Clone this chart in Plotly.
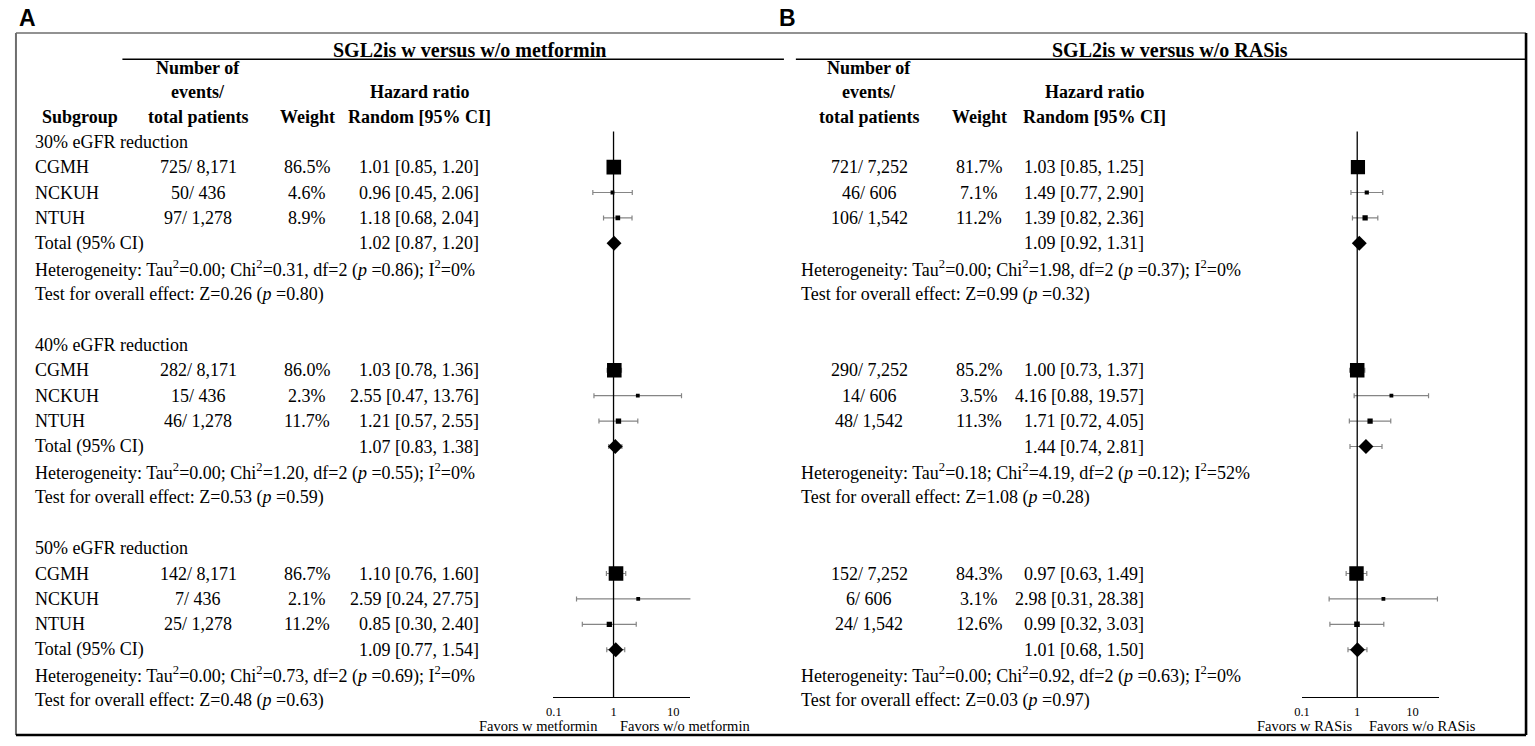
import plotly.graph_objects as go
import numpy as np

W, H = 1535, 746
SERIF = "Liberation Serif"
SANS = "Liberation Sans"

# ---------------- data ----------------
sections = ["30% eGFR reduction", "40% eGFR reduction", "50% eGFR reduction"]
centers = ["CGMH", "NCKUH", "NTUH"]
tick_vals = [0.1, 1, 10]
tick_text = ["0.1", "1", "10"]

# Panel A: SGL2is with versus without metformin
met_events = [725, 50, 97, 282, 15, 46, 142, 7, 25]
met_totals = [8171, 436, 1278, 8171, 436, 1278, 8171, 436, 1278]
met_weight = [86.5, 4.6, 8.9, 86.0, 2.3, 11.7, 86.7, 2.1, 11.2]
met_hr = [1.01, 0.96, 1.18, 1.03, 2.55, 1.21, 1.10, 2.59, 0.85]
met_lo = [0.85, 0.45, 0.68, 0.78, 0.47, 0.57, 0.76, 0.24, 0.30]
met_hi = [1.20, 2.06, 2.04, 1.36, 13.76, 2.55, 1.60, 27.75, 2.40]
met_tot_hr = [1.02, 1.07, 1.09]
met_tot_lo = [0.87, 0.83, 0.77]
met_tot_hi = [1.20, 1.38, 1.54]
met_tau2 = ["0.00", "0.00", "0.00"]
met_chi2 = ["0.31", "1.20", "0.73"]
met_df = [2, 2, 2]
met_het_p = ["0.86", "0.55", "0.69"]
met_i2 = [0, 0, 0]
met_z = ["0.26", "0.53", "0.48"]
met_z_p = ["0.80", "0.59", "0.63"]

# Panel B: SGL2is with versus without RASis
ras_events = [721, 46, 106, 290, 14, 48, 152, 6, 24]
ras_totals = [7252, 606, 1542, 7252, 606, 1542, 7252, 606, 1542]
ras_weight = [81.7, 7.1, 11.2, 85.2, 3.5, 11.3, 84.3, 3.1, 12.6]
ras_hr = [1.03, 1.49, 1.39, 1.00, 4.16, 1.71, 0.97, 2.98, 0.99]
ras_lo = [0.85, 0.77, 0.82, 0.73, 0.88, 0.72, 0.63, 0.31, 0.32]
ras_hi = [1.25, 2.90, 2.36, 1.37, 19.57, 4.05, 1.49, 28.38, 3.03]
ras_tot_hr = [1.09, 1.44, 1.01]
ras_tot_lo = [0.92, 0.74, 0.68]
ras_tot_hi = [1.31, 2.81, 1.50]
ras_tau2 = ["0.00", "0.18", "0.00"]
ras_chi2 = ["1.98", "4.19", "0.92"]
ras_df = [2, 2, 2]
ras_het_p = ["0.37", "0.12", "0.63"]
ras_i2 = [0, 52, 0]
ras_z = ["0.99", "1.08", "0.03"]
ras_z_p = ["0.32", "0.28", "0.97"]

# ---------------- layout helpers ----------------
Y0, DY = 141.7, 25.4          # pixel y of row 0, row pitch
SEC = 8                       # rows per section


def ry(px):
    return (px - Y0) / DY


def px_x(px):
    return px / W


def px_y(px):
    return 1 - px / H


AXIS_PX = 697.0
study_rows = [SEC * k + i for k in range(3) for i in (1, 2, 3)]
total_rows = [SEC * k + 4 for k in range(3)]

fig = go.Figure()
ann = []


def txt(xp, row, s, anchor="left", size=18, bold=False, family=SERIF):
    ann.append(dict(x=px_x(xp), y=row, xref="paper", yref="y", text=s,
                    showarrow=False, xanchor=anchor, yanchor="middle",
                    font=dict(family=family, size=size, color="black",
                              weight="bold" if bold else "normal")))


def sq_size(w):
    return max(3.8, 1.57 * np.sqrt(w))


def panel(cfg):
    xa = cfg["xaxis"]
    ci_style = dict(color="#858585", thickness=1.2, width=2.5)
    # CI whiskers (drawn first, below markers)
    fig.add_trace(go.Scatter(
        x=cfg["hr"] + cfg["tot_hr"], y=study_rows + total_rows, xaxis=xa, yaxis="y",
        mode="markers", marker=dict(size=2, opacity=0),
        error_x=dict(type="data", symmetric=False,
                     array=[h - m for h, m in zip(cfg["hi"] + cfg["tot_hi"], cfg["hr"] + cfg["tot_hr"])],
                     arrayminus=[m - l for m, l in zip(cfg["hr"] + cfg["tot_hr"], cfg["lo"] + cfg["tot_lo"])],
                     **ci_style),
        showlegend=False, hoverinfo="skip"))
    # study squares sized by weight
    fig.add_trace(go.Scatter(
        x=cfg["hr"], y=study_rows, xaxis=xa, yaxis="y", mode="markers",
        marker=dict(symbol="square", color="black", opacity=1,
                    size=[sq_size(w) for w in cfg["weight"]], line=dict(width=0)),
        showlegend=False, hoverinfo="skip"))
    # pooled diamonds
    fig.add_trace(go.Scatter(
        x=cfg["tot_hr"], y=total_rows, xaxis=xa, yaxis="y", mode="markers",
        marker=dict(symbol="diamond", color="black", opacity=1, size=11.5, line=dict(width=0)),
        showlegend=False, hoverinfo="skip"))

    c = cfg["cols"]
    for k in range(3):
        base = SEC * k
        if cfg["labels"]:
            txt(c["label"], base, sections[k])
            txt(c["label"], base + 4, "Total (95% CI)")
        for i in range(3):
            j = 3 * k + i
            r = base + 1 + i
            if cfg["labels"]:
                txt(c["label"], r, centers[i])
            txt(c["events"], r, f"{cfg['events'][j]}/ {cfg['totals'][j]:,}", "center")
            txt(c["weight"], r, f"{cfg['weight'][j]:.1f}%", "center")
            txt(c["hr"], r, f"{cfg['hr'][j]:.2f} [{cfg['lo'][j]:.2f}, {cfg['hi'][j]:.2f}]", "right")
        txt(c["hr"], base + 4,
            f"{cfg['tot_hr'][k]:.2f} [{cfg['tot_lo'][k]:.2f}, {cfg['tot_hi'][k]:.2f}]", "right")
        txt(c["het"], base + 5,
            f"Heterogeneity: Tau<sup>2</sup>={cfg['tau2'][k]}; Chi<sup>2</sup>={cfg['chi2'][k]}, "
            f"df={cfg['df'][k]} (<i>p</i> ={cfg['het_p'][k]}); I<sup>2</sup>={cfg['i2'][k]}%")
        txt(c["het"], base + 6,
            f"Test for overall effect: Z={cfg['z'][k]} (<i>p</i> ={cfg['z_p'][k]})")

    # header
    if cfg["labels"]:
        txt(31.7, ry(116.7), "Subgroup", "left", bold=True)
    txt(c["events"], ry(68.3), "Number of", "center", bold=True)
    txt(c["events"], ry(92.0), "events/", "center", bold=True)
    txt(c["events"], ry(116.7), "total patients", "center", bold=True)
    txt(c["weight"], ry(116.7), "Weight", "center", bold=True)
    txt(c["hrhead"], ry(92.0), "Hazard ratio", "center", bold=True)
    txt(c["hrhead"], ry(116.7), "Random [95% CI]", "center", bold=True)
    txt(cfg["title_x"], ry(50), cfg["title"], cfg["title_anchor"], size=20, bold=True)
    # favors labels
    txt(cfg["fav_l"], ry(726), cfg["fav_left"], "right", size=14.5)
    txt(cfg["fav_r"], ry(726), cfg["fav_right"], "left", size=14.5)


panel(dict(xaxis="x", hr=met_hr, lo=met_lo, hi=met_hi, weight=met_weight,
           events=met_events, totals=met_totals,
           tot_hr=met_tot_hr, tot_lo=met_tot_lo, tot_hi=met_tot_hi,
           tau2=met_tau2, chi2=met_chi2, df=met_df, het_p=met_het_p, i2=met_i2,
           z=met_z, z_p=met_z_p, labels=True,
           cols=dict(label=25, events=191, weight=301, hr=475.5, hrhead=414, het=25),
           title="SGL2is w versus w/o metformin", title_x=464, title_anchor="center",
           fav_left="Favors w metformin", fav_right="Favors w/o metformin",
           fav_l=595, fav_r=613))

panel(dict(xaxis="x2", hr=ras_hr, lo=ras_lo, hi=ras_hi, weight=ras_weight,
           events=ras_events, totals=ras_totals,
           tot_hr=ras_tot_hr, tot_lo=ras_tot_lo, tot_hi=ras_tot_hi,
           tau2=ras_tau2, chi2=ras_chi2, df=ras_df, het_p=ras_het_p, i2=ras_i2,
           z=ras_z, z_p=ras_z_p, labels=False,
           cols=dict(label=795, events=866, weight=976.5, hr=1143.5, hrhead=1092, het=795),
           title="SGL2is w versus w/o RASis", title_x=1047, title_anchor="left",
           fav_left="Favors w RASis", fav_right="Favors w/o RASis",
           fav_l=1353, fav_r=1366.5))

# panel letters
for letter, xp in (("A", 20), ("B", 784)):
    ann.append(dict(x=px_x(xp), y=px_y(18), xref="paper", yref="paper",
                    text=letter, showarrow=False,
                    xanchor="center", yanchor="middle",
                    font=dict(family=SANS, size=23, color="black", weight="bold")))

shapes = []


def pline(x0, y0, x1, y1, color="black", width=1.5):
    shapes.append(dict(type="line", xref="paper", yref="paper",
                       x0=px_x(x0), y0=px_y(y0), x1=px_x(x1), y1=px_y(y1),
                       line=dict(color=color, width=width)))


# outer frame
pline(8, 33, 1526, 33, "#6e6e6e", 1.6)
pline(8, 33, 8, 735, "#6e6e6e", 2)
pline(8, 735, 1526, 735, "black", 2.6)
pline(1526, 33, 1526, 735, "black", 2.6)
# title underlines
pline(115, 59.3, 780, 59.3, "black", 1.5)
pline(792, 59.3, 1526, 59.3, "black", 1.5)

# line of no effect
for xa in ("x", "x2"):
    shapes.append(dict(type="line", xref=xa, yref="y", x0=1, x1=1,
                       y0=-0.4, y1=ry(AXIS_PX), line=dict(color="black", width=1.3)))

axis_common = dict(type="log", anchor="free", position=px_y(AXIS_PX),
                   showline=True, linecolor="black", linewidth=1.3,
                   ticks="", tickvals=tick_vals, ticktext=tick_text,
                   tickfont=dict(family=SERIF, size=12.5, color="black"),
                   showgrid=False, zeroline=False, fixedrange=True,
                   ticklabelstandoff=3)

fig.update_layout(
    width=W, height=H, margin=dict(l=0, r=0, t=0, b=0),
    paper_bgcolor="white", plot_bgcolor="rgba(0,0,0,0)",
    xaxis=dict(domain=[px_x(548), px_x(686)],
               range=[np.log10(0.0974), np.log10(19.4)], **axis_common),
    xaxis2=dict(domain=[px_x(1300.5), px_x(1438)],
                range=[-1.005, 1.472], **axis_common),
    yaxis=dict(domain=[0, 1], range=[ry(H), ry(0)], visible=False, fixedrange=True),
    annotations=ann, shapes=shapes, showlegend=False,
)

fig.write_html(
    "out.html",
    config={"displayModeBar": False},
    post_script="document.body.style.margin='0';document.body.style.overflow='hidden';",
)
